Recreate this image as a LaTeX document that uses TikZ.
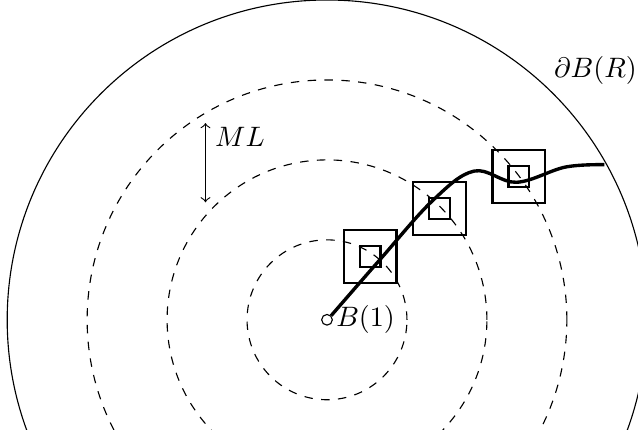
\documentclass[tikz,border=0pt]{standalone}
\begin{document}
\begin{tikzpicture}
            \useasboundingbox (-4.09,-1.375) rectangle (3.89,4.0);
            \clip (-4.09,-1.375) rectangle (3.89,4.0);
            \draw (0,0) circle (4);
            \foreach \r in {1,2,3}
                \draw[dashed] (0,0) circle (\r);
            \node[above right, inner sep=1pt] (bdry) at (2.8,2.9) {\(\partial B(R)\)};

            \node[circle, draw, fill=white, minimum size=3.8pt, inner sep=0pt] (b1) at (0,0) {};
            \node[right, inner sep=1pt] (b1lab) at (b1.east) {\(B(1)\)};

            \node[draw, thick, minimum size=0.66cm] (big1) at (0.54,0.79) {};
            \node[draw, thick, minimum size=0.26cm] (small1) at (0.54,0.79) {};
            \node[draw, thick, minimum size=0.66cm] (big2) at (1.41,1.39) {};
            \node[draw, thick, minimum size=0.26cm] (small2) at (1.41,1.39) {};
            \node[draw, thick, minimum size=0.66cm] (big3) at (2.40,1.79) {};
            \node[draw, thick, minimum size=0.26cm] (small3) at (2.40,1.79) {};

            \coordinate (p1) at (0.66,0.75);
            \coordinate (p2) at (1.32,1.49);
            \coordinate (p3) at (1.84,1.86);
            \coordinate (p4) at (2.37,1.72);
            \coordinate (p5) at (2.98,1.91);
            \coordinate (p6) at (3.47,1.94);
            \draw[very thick] plot[smooth, tension=0.6] coordinates {(b1.north east) (p1) (p2) (p3) (p4) (p5) (p6)};

            \coordinate (mltop) at (-1.52,2.46);
            \coordinate (mlbot) at (-1.52,1.47);
            \draw[<->] (mltop) -- (mlbot);
            \node[right, inner sep=1pt] (ml) at (-1.44,2.29) {\(ML\)};
        \end{tikzpicture}
\end{document}
